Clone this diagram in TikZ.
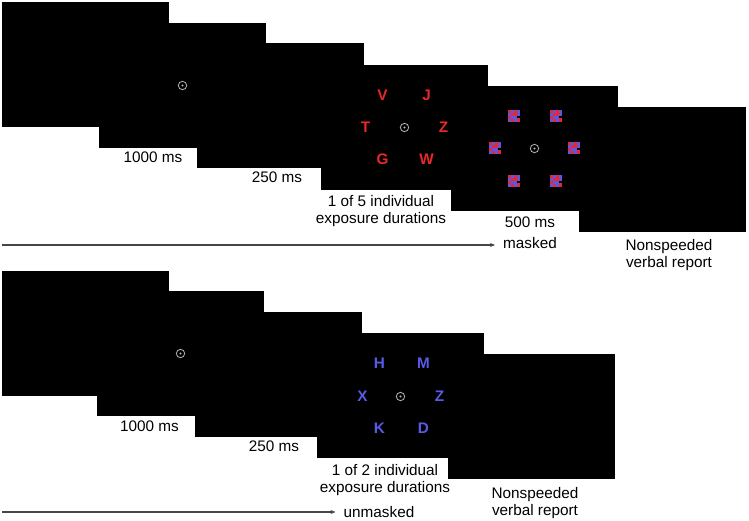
\documentclass[tikz,border=0pt]{standalone}
\usepackage{fontspec}
\setmainfont{Liberation Sans}
\usetikzlibrary{arrows.meta, positioning}

\definecolor{lettred}{RGB}{232,40,40}
\definecolor{lettblue}{RGB}{90,90,228}
\definecolor{maskred}{RGB}{222,40,60}
\definecolor{maskblue}{RGB}{95,85,225}
\definecolor{axisgray}{RGB}{70,70,70}

\begin{document}
\begin{tikzpicture}[
    x=1pt, y=-1pt,
    screen/.style={rectangle, fill=black, minimum width=167pt, minimum height=125pt, inner sep=0pt, outer sep=0pt, anchor=north west},
    timing/.style={anchor=base, align=center, inner sep=4pt, font=\fontsize{15.3}{17}\selectfont},
    letter/.style={inner sep=0pt, font=\fontsize{15.3}{17}\selectfont\bfseries},
    arrow/.style={-{Stealth[length=5pt, width=4pt]}, axisgray, line width=1.1pt, shorten >=4pt},
    fixation/.pic={
        \draw[gray!60!white, line width=0.8pt] (0,0) circle (4.2pt);
        \fill[gray!60!white] (0,0) circle (1.1pt);
    },
    maskpatch/.pic={
        \fill[maskblue] (-6,-6) rectangle (6,6);
        \foreach \i/\j in {0/0,2/0,1/1,2/1,0/2,3/2,1/3,3/3}
            \fill[maskred] ({-6+3*\i},{-6+3*\j}) rectangle +(3,3);
        \fill[maskred] (-1,-3) rectangle (4,-1);
        \fill[black] (3,0) rectangle (6,2);
    },
]
\useasboundingbox (0,0) rectangle (749,521);

% masked condition
\node[screen] (tblank) at (2,2) {};
\node[screen] (tfix) at (99,23) {};
\node[screen] (tgap) at (197,43) {};
\node[screen] (tletters) at (321,65) {};
\node[screen] (tmask) at (451,86) {};
\node[screen] (treport) at (579,107) {};

\pic at (tfix.center) {fixation};
\pic at (tletters.center) {fixation};
\pic at (tmask.center) {fixation};

\node[letter, lettred] (tv) at ([shift={(-22,-32)}]tletters.center) {V};
\node[letter, lettred] (tj) at ([shift={(22,-32)}]tletters.center) {J};
\node[letter, lettred] (tt) at ([shift={(-39,0)}]tletters.center) {T};
\node[letter, lettred] (tz) at ([shift={(39,0)}]tletters.center) {Z};
\node[letter, lettred] (tg) at ([shift={(-22,32)}]tletters.center) {G};
\node[letter, lettred] (tw) at ([shift={(22,32)}]tletters.center) {W};

\foreach \dx/\dy in {-21/-32.5, 21/-32.5, -40/0, 39/0, -21/32.5, 21/32.5}
    \pic at ([shift={(\dx,\dy)}]tmask.center) {maskpatch};

\node[timing] (t1000) at (153,163) {1000 ms};
\node[timing] (t250) at (277,183) {250 ms};
\node[timing] (tdur) at (381,224) {1 of 5 individual\\exposure durations};
\node[timing] (t500) at (530,228) {500 ms};
\node[timing] (masked) at (530,249) {masked};
\node[timing] (treporttxt) at (669,267) {Nonspeeded\\verbal report};

\coordinate (tstart) at (2,245);
\draw[arrow] (tstart) -- (tstart -| masked.west);

% unmasked condition
\node[screen] (ublank) at (2,271) {};
\node[screen] (ufix) at (97,291) {};
\node[screen] (ugap) at (195,312) {};
\node[screen] (uletters) at (317,333) {};
\node[screen] (ureport) at (448,354) {};

\pic at (ufix.center) {fixation};
\pic at ([shift={(0,1)}]uletters.center) {fixation};

\node[letter, lettblue] (uh) at ([shift={(-21,-32)}]uletters.center) {H};
\node[letter, lettblue] (um) at ([shift={(23,-32)}]uletters.center) {M};
\node[letter, lettblue] (ux) at ([shift={(-38,1)}]uletters.center) {X};
\node[letter, lettblue] (uz) at ([shift={(39,1)}]uletters.center) {Z};
\node[letter, lettblue] (uk) at ([shift={(-21,33)}]uletters.center) {K};
\node[letter, lettblue] (ud) at ([shift={(23,33)}]uletters.center) {D};

\node[timing] (u1000) at (149.5,431) {1000 ms};
\node[timing] (u250) at (274,451) {250 ms};
\node[timing] (udur) at (385,492) {1 of 2 individual\\exposure durations};
\node[timing] (unmasked) at (379,517) {unmasked};
\node[timing] (ureporttxt) at (535,515) {Nonspeeded\\verbal report};

\coordinate (ustart) at (2,512);
\draw[arrow] (ustart) -- (ustart -| unmasked.west);
\end{tikzpicture}
\end{document}
